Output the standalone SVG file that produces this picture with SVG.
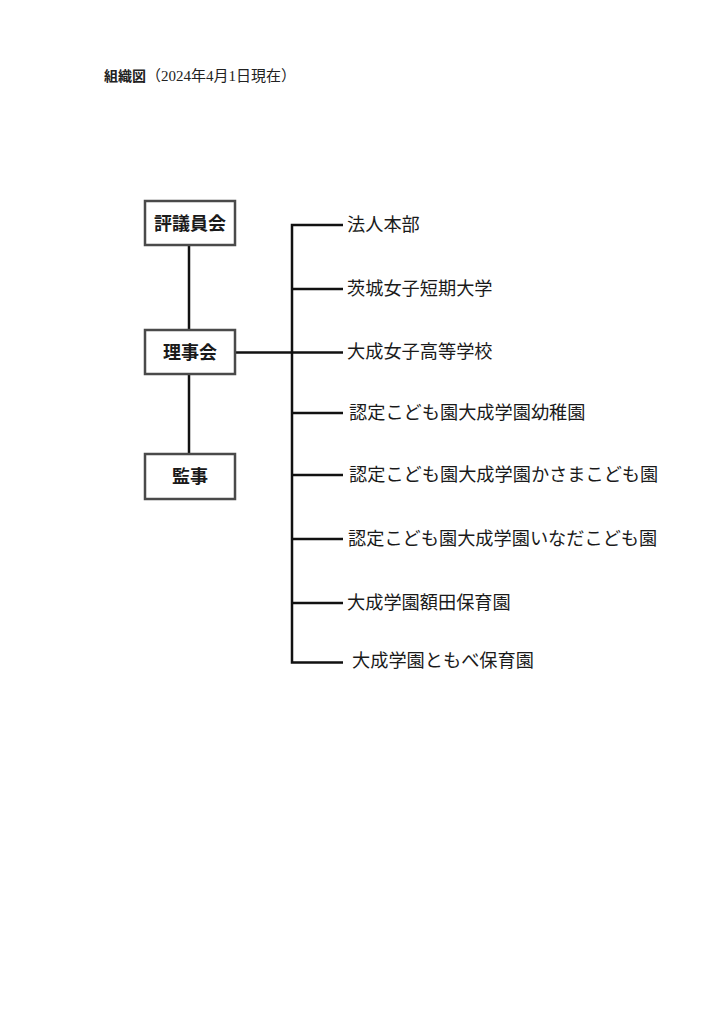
<svg xmlns="http://www.w3.org/2000/svg" width="724" height="1024" viewBox="0 0 724 1024">
<style>
.bg{fill:#ffffff}
.box{fill:#ffffff;stroke:#4a4a4a;stroke-width:2.5}
.bt{font-family:"Noto Sans CJK JP","Noto Sans",sans-serif;font-size:18px;font-weight:bold;fill:#1a1a1a;text-anchor:middle}
.lt{font-family:"Noto Sans CJK JP","Noto Sans",sans-serif;font-size:18.2px;fill:#1a1a1a}
.title{font-family:"Liberation Serif","Noto Sans CJK JP",serif;fill:#222}
.ln{stroke:#111;stroke-width:2.5;fill:none}
</style>
<rect class="bg" x="0" y="0" width="724" height="1024"/>
<g id="title">
<text class="title" x="104" y="81" font-size="14" font-weight="bold">組織図</text>
<text class="title" x="146" y="81" font-size="15">（2024年4月1日現在）</text>
</g>
<g id="connectors">
<line class="ln" x1="189" y1="245" x2="189" y2="330"/>
<line class="ln" x1="189" y1="374" x2="189" y2="454"/>
<line class="ln" x1="235" y1="352.5" x2="343" y2="352.5"/>
<polyline class="ln" points="343,225 292,225 292,662.5 343,662.5"/>
<line class="ln" x1="292" y1="289" x2="343" y2="289"/>
<line class="ln" x1="292" y1="413" x2="343" y2="413"/>
<line class="ln" x1="292" y1="475" x2="343" y2="475"/>
<line class="ln" x1="292" y1="539" x2="343" y2="539"/>
<line class="ln" x1="292" y1="603" x2="343" y2="603"/>
</g>
<g id="hyogiinkai"><rect class="box" x="145" y="201" width="90" height="44"/><text class="bt" x="190" y="230">評議員会</text></g>
<g id="rijikai"><rect class="box" x="145" y="330" width="90" height="44"/><text class="bt" x="190" y="359">理事会</text></g>
<g id="kanji"><rect class="box" x="145" y="454" width="90" height="45"/><text class="bt" x="190" y="483">監事</text></g>
<g id="n1"><text class="lt" x="347" y="230.5">法人本部</text></g>
<g id="n2"><text class="lt" x="347" y="294.5">茨城女子短期大学</text></g>
<g id="n3"><text class="lt" x="347" y="357.5">大成女子高等学校</text></g>
<g id="n4"><text class="lt" x="349" y="419">認定こども園大成学園幼稚園</text></g>
<g id="n5"><text class="lt" x="349" y="481">認定こども園大成学園かさまこども園</text></g>
<g id="n6"><text class="lt" x="348" y="545">認定こども園大成学園いなだこども園</text></g>
<g id="n7"><text class="lt" x="347" y="609">大成学園額田保育園</text></g>
<g id="n8"><text class="lt" x="352" y="667">大成学園ともべ保育園</text></g>
</svg>
